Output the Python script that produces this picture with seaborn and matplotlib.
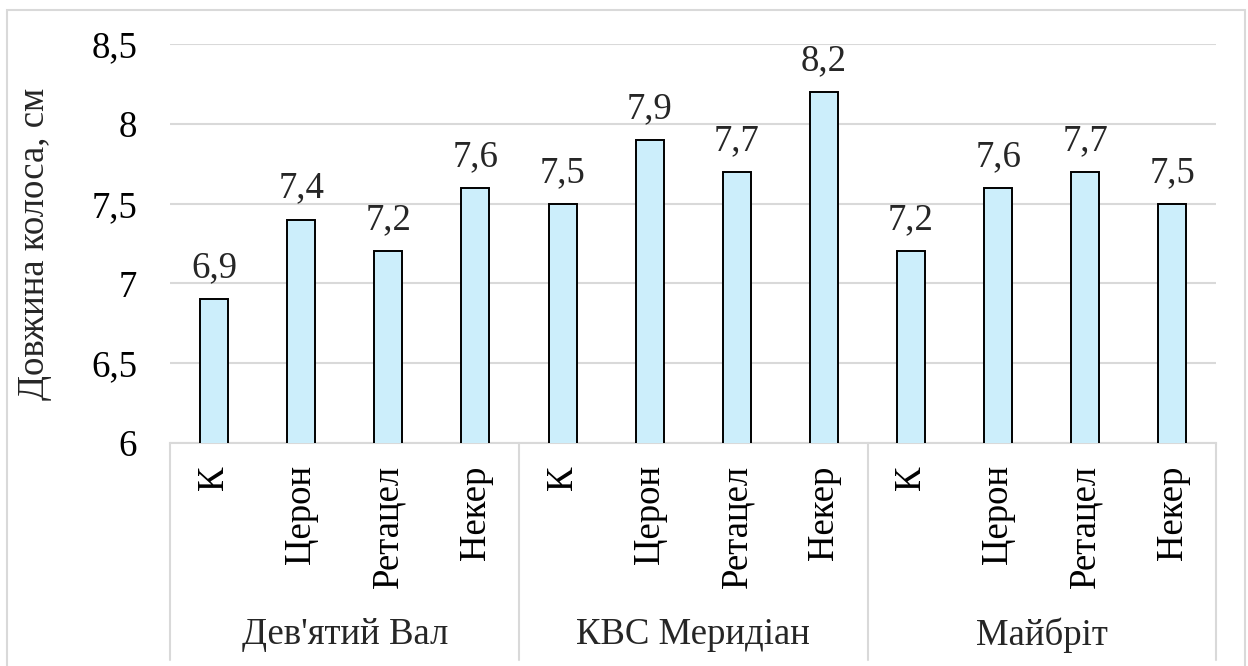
import matplotlib
matplotlib.use("Agg")
import matplotlib.pyplot as plt
import seaborn as sns
import pandas as pd
from matplotlib.patches import Rectangle
from matplotlib.ticker import FuncFormatter

groups = ["Дев'ятий Вал", "КВС Меридіан", "Майбріт"]
treatments = ["К", "Церон", "Ретацел", "Некер"]
values_dv = [6.9, 7.4, 7.2, 7.6]
values_kvs = [7.5, 7.9, 7.7, 8.2]
values_mb = [7.2, 7.6, 7.7, 7.5]
ylabel = "Довжина колоса, см"

sns.set_theme(style="white")
plt.rcParams['font.family'] = ['Liberation Serif', 'DejaVu Serif']
plt.rcParams['font.serif'] = ['Liberation Serif', 'DejaVu Serif']
FS = 26.5
FAM = ['Liberation Serif', 'DejaVu Serif']

rows = []
for g, vals in zip(groups, [values_dv, values_kvs, values_mb]):
    for t, v in zip(treatments, vals):
        rows.append({"key": f"{g}|{t}", "group": g, "treat": t, "value": v})
df = pd.DataFrame(rows)

fig = plt.figure(figsize=(12.48, 6.66), dpi=100)
ax = fig.add_axes([170.5/1248, (666-443)/666, (1216-170.5)/1248, (443-44)/666])

sns.barplot(data=df, x="key", y="value", order=list(df["key"]), color="#CCEEFB",
            width=0.32, edgecolor="black", linewidth=1.4, ax=ax, errorbar=None,
            saturation=1, zorder=3)

ax.set_ylim(6, 8.5)
ax.set_yticks([6, 6.5, 7, 7.5, 8, 8.5])
ax.yaxis.set_major_formatter(FuncFormatter(lambda v, p: (f"{v:g}").replace(".", ",")))
ax.set_xlim(-0.5, len(df) - 0.5)
ax.grid(axis="y", color="#D9D9D9", linewidth=1.5, zorder=0)
ax.set_axisbelow(True)
for s in ["top", "right", "left"]:
    ax.spines[s].set_visible(False)
ax.spines["bottom"].set_color("#D9D9D9")
ax.spines["bottom"].set_linewidth(1.5)
ax.tick_params(axis="both", length=0, labelsize=FS, colors="black")
ax.tick_params(axis="y", pad=24)
ax.tick_params(axis="x", pad=16)
ax.set_xticks(range(len(df)))
ax.set_xticklabels(df["treat"], rotation=90, va="top", ha="center", family=FAM)
for lab in ax.get_yticklabels():
    lab.set_family(FAM)
ax.set_xlabel("")
ax.set_ylabel(ylabel, fontsize=FS, family=FAM)
ax.yaxis.set_label_coords(-(170.5 - 52) / 1045.5, 0.5)

for i, v in enumerate(df["value"]):
    ax.annotate(f"{v:g}".replace(".", ","), (i, v), xytext=(0, 10), textcoords="offset points",
                ha="center", va="bottom", fontsize=FS, family=FAM)

trans = ax.get_xaxis_transform()
bottom_frac = -(660 - 443) / 399
for b in [-0.5, 3.5, 7.5, 11.5]:
    ax.plot([b, b], [0, bottom_frac], transform=trans, color="#D9D9D9",
            linewidth=1.5, clip_on=False)
for k, g in enumerate(groups):
    ax.text(4 * k + 1.5, -(635 - 443) / 399, g, transform=trans, ha="center", va="center",
            fontsize=FS, family=FAM)

fig.patches.append(Rectangle((7/1248, -0.1), (1245-7)/1248, 1.1 - 10.5/666,
                             transform=fig.transFigure, fill=False,
                             edgecolor="#D9D9D9", linewidth=1.5))

fig.savefig("out.png", dpi=100)
